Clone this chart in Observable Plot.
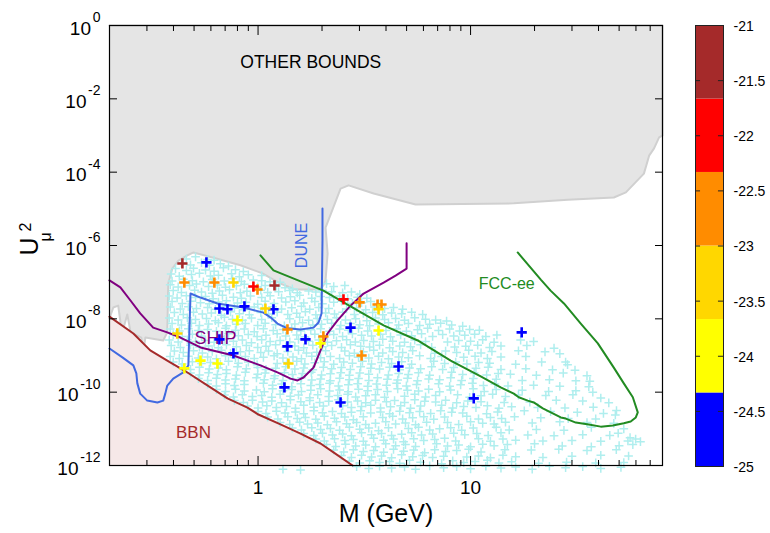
<!DOCTYPE html>
<html><head><meta charset="utf-8">
<script src="https://cdn.jsdelivr.net/npm/d3@7"></script>
<script src="https://cdn.jsdelivr.net/npm/@observablehq/plot@0.6"></script>
<style>
body{margin:0;background:#fff;}
#wrap{position:relative;width:770px;height:533px;background:#fff;}
#wrap svg{position:absolute;top:0;}
</style></head><body><div id="wrap"></div>
<script>
// [M (GeV), log10 U^2]
const otherBounds = [[0.2,-7.99],[0.2084,-7.69],[0.2198,-7.64],[0.229,-8.40],[0.2425,-7.88],[0.256,-8.62],[0.2645,-8.43],[0.2823,-8.51],[0.2886,-8.89],[0.295,-8.51],[0.358,-8.59],[0.374,-8.37],[0.378,-7.04],[0.395,-6.63],[0.4217,-6.41],[0.4648,-6.27],[0.497,-6.19],[0.63,-6.35],[0.826,-6.54],[1.049,-6.76],[1.275,-7.04],[1.50,-7.20],[1.927,-7.20],[2.03,-7.09],[2.078,-6.95],[2.125,-6.22],[2.078,-5.51],[2.445,-4.45],[2.667,-4.36],[3.50,-4.58],[5.51,-4.88],[15.97,-4.85],[28.7,-4.75],[47.2,-4.69],[53.8,-4.55],[65.4,-4.04],[69.2,-3.55],[73.0,-3.35],[77.1,-3.05],[80,-3.0],[80,0],[0.2,0]];
const bbnLine = [[0.2,-7.94],[0.259,-8.40],[0.311,-8.86],[0.386,-9.19],[0.450,-9.41],[0.597,-9.87],[0.718,-10.17],[0.892,-10.42],[1.004,-10.61],[1.275,-10.88],[1.585,-11.13],[1.968,-11.40],[2.265,-11.64],[2.785,-12.0]];
const shipLine = [[0.2,-6.95],[0.225,-7.14],[0.251,-7.50],[0.279,-7.85],[0.321,-8.24],[0.374,-8.37],[0.431,-8.51],[0.536,-8.78],[0.766,-9.00],[1.026,-9.27],[1.234,-9.46],[1.422,-9.63],[1.534,-9.68],[1.636,-9.60],[1.824,-9.33],[1.968,-8.86],[2.122,-8.40],[2.366,-8.04],[2.724,-7.64],[3.138,-7.31],[3.898,-7.01],[4.438,-6.82],[5.0,-6.63],[5.0,-5.94]];
const duneLine = [[0.2,-8.81],[0.230,-9.05],[0.259,-9.27],[0.2675,-9.49],[0.2704,-9.76],[0.279,-10.04],[0.301,-10.23],[0.336,-10.28],[0.358,-10.23],[0.366,-10.04],[0.374,-9.82],[0.399,-9.63],[0.445,-9.46],[0.470,-9.27],[0.481,-7.31],[0.536,-7.42],[0.644,-7.58],[0.853,-7.69],[1.060,-7.83],[1.144,-7.96],[1.234,-8.13],[1.375,-8.26],[1.585,-8.29],[1.824,-8.24],[1.926,-8.10],[1.990,-7.85],[2.01,-5.86],[2.01,-4.99]];
const fccLine = [[1.026,-6.27],[1.182,-6.68],[1.585,-6.98],[2.03,-7.23],[2.724,-7.66],[3.898,-8.18],[5.64,-8.59],[8.06,-9.14],[11.16,-9.57],[13.86,-9.87],[15.97,-10.04],[16.85,-10.14],[18.58,-10.23],[19.83,-10.28],[21.87,-10.44],[24.37,-10.58],[26.57,-10.69],[28.05,-10.72],[31.27,-10.83],[35.98,-10.88],[41.0,-10.94],[46.7,-10.91],[52.6,-10.85],[56.7,-10.80],[59.9,-10.69],[61.2,-10.55],[58.0,-10.14],[52.6,-9.76],[47.2,-9.33],[39.7,-8.67],[33.0,-8.13],[27.5,-7.58],[23.8,-7.23],[21.4,-6.93],[16.66,-6.19]];
// benchmark points [M, log10 U^2, colour value]
const markedPoints = [[0.4406,-6.49,-21.3],[1.195,-7.09,-21.3],
[0.5715,-6.46,-24.7],[0.658,-7.72,-24.7],[0.718,-7.74,-24.7],[0.863,-7.66,-24.7],[1.182,-7.74,-24.7],[0.658,-8.56,-24.7],[1.672,-8.56,-24.7],[1.375,-8.75,-24.7],[0.766,-8.94,-24.7],[1.331,-9.87,-24.7],[2.724,-8.24,-24.7],[4.58,-9.30,-24.7],[2.445,-10.28,-24.7],[10.35,-10.17,-24.7],[17.4,-8.37,-24.7],
[0.450,-7.01,-22.7],[0.623,-7.01,-22.7],[0.994,-7.20,-22.7],[1.375,-8.29,-22.7],[2.03,-8.48,-22.7],[3.005,-7.55,-22.7],[3.65,-7.61,-22.7],[3.81,-7.61,-22.7],[3.07,-9.00,-22.7],
[0.951,-7.12,-22.0],[2.524,-7.47,-22.0],
[0.766,-7.01,-23.3],[1.083,-7.72,-23.3],[0.417,-8.40,-23.3],[1.39,-9.22,-23.3],[3.69,-7.74,-23.3],
[0.800,-8.04,-24.0],[1.968,-8.67,-24.0],[0.536,-9.14,-24.0],[0.644,-9.22,-24.0],[0.450,-9.35,-24.0],[3.69,-8.32,-24.0]];
// scan points [M, log10 U^2]
const scanPoints = [
[0.46,-6.37],[0.508,-6.31],[0.579,-6.38],[0.621,-6.4],
[0.436,-6.48],[0.481,-6.53],[0.542,-6.47],[0.59,-6.54],[0.665,-6.5],[0.726,-6.56],
[0.409,-6.63],[0.46,-6.68],[0.497,-6.62],[0.566,-6.67],[0.621,-6.7],[0.687,-6.61],[0.783,-6.66],[0.853,-6.71],
[0.39,-6.78],[0.426,-6.84],[0.486,-6.79],[0.53,-6.76],[0.597,-6.83],[0.651,-6.81],[0.75,-6.77],[0.817,-6.85],[0.9,-6.8],[1.04,-6.82],
[0.394,-6.97],[0.445,-6.92],[0.491,-6.96],[0.553,-6.99],[0.609,-6.93],[0.694,-6.97],[0.758,-6.91],[0.835,-6.98],[0.95,-6.94],[1.04,-6.96],[1.14,-6.99],[1.27,-7.0],
[0.386,-7.07],[0.421,-7.13],[0.476,-7.09],[0.513,-7.05],[0.585,-7.12],[0.644,-7.08],[0.703,-7.14],[0.791,-7.1],[0.862,-7.06],[0.996,-7.13],[1.08,-7.09],[1.22,-7.11],[1.34,-7.15],[1.45,-7.18],[2.1,-7.04],[2.27,-7.12],[2.56,-7.09],
[0.399,-7.23],[0.436,-7.28],[0.503,-7.22],[0.542,-7.27],[0.609,-7.3],[0.658,-7.24],[0.734,-7.21],[0.826,-7.29],[0.886,-7.25],[1.03,-7.22],[1.11,-7.28],[1.25,-7.26],[1.41,-7.23],[1.53,-7.29],[1.73,-7.24],[1.87,-7.27],[2.01,-7.22],[2.22,-7.26],[2.5,-7.29],[2.75,-7.27],[3.01,-7.33],
[0.382,-7.38],[0.416,-7.43],[0.46,-7.37],[0.508,-7.42],[0.566,-7.39],[0.615,-7.45],[0.68,-7.36],[0.766,-7.41],[0.835,-7.44],[0.921,-7.38],[1.04,-7.42],[1.14,-7.37],[1.29,-7.43],[1.42,-7.4],[1.57,-7.36],[1.79,-7.44],[1.97,-7.39],[2.17,-7.42],[2.42,-7.38],[2.64,-7.45],[2.94,-7.41],[3.25,-7.44],
[0.394,-7.53],[0.44,-7.58],[0.481,-7.52],[0.536,-7.56],[0.59,-7.59],[0.651,-7.54],[0.71,-7.51],[0.8,-7.57],[0.877,-7.55],[0.996,-7.6],[1.08,-7.52],[1.19,-7.58],[1.35,-7.54],[1.49,-7.51],[1.64,-7.57],[1.85,-7.53],[2.01,-7.59],[2.27,-7.55],[2.47,-7.52],[2.78,-7.58],[3.07,-7.56],[3.39,-7.53],[3.69,-7.59],
[0.386,-7.68],[0.431,-7.73],[0.47,-7.67],[0.513,-7.72],[0.579,-7.69],[0.63,-7.74],[0.703,-7.66],[0.774,-7.71],[0.853,-7.75],[0.96,-7.68],[1.05,-7.72],[1.17,-7.67],[1.29,-7.73],[1.44,-7.7],[1.6,-7.66],[1.75,-7.74],[1.93,-7.69],[2.15,-7.72],[2.61,-7.73],[2.91,-7.7],[3.21,-7.75],[3.53,-7.68],[3.94,-7.72],[4.34,-7.69],[4.79,-7.74],
[0.404,-7.83],[0.445,-7.88],[0.497,-7.82],[0.547,-7.87],[0.603,-7.84],[0.672,-7.9],[0.742,-7.81],[0.817,-7.86],[0.91,-7.89],[1.03,-7.83],[1.12,-7.87],[1.23,-7.82],[1.38,-7.88],[1.52,-7.85],[1.67,-7.81],[1.87,-7.89],[2.08,-7.84],[2.29,-7.87],[2.5,-7.82],[2.84,-7.88],[3.13,-7.85],[3.46,-7.83],[3.86,-7.89],[4.25,-7.84],[4.74,-7.86],[5.28,-7.82],[5.95,-7.88],
[0.382,-7.98],[0.421,-8.03],[0.465,-7.97],[0.508,-8.02],[0.572,-7.99],[0.63,-8.05],[0.695,-7.96],[0.758,-8.01],[0.845,-8.04],[0.931,-7.98],[1.04,-8.02],[1.16,-7.97],[1.41,-8.0],[1.57,-7.96],[1.73,-8.04],[1.9,-7.99],[2.12,-8.02],[2.34,-7.97],[2.58,-8.03],[2.88,-8.0],[3.25,-8.05],[3.57,-7.98],[3.94,-8.02],[4.44,-7.99],[4.89,-8.04],[5.46,-7.97],[6.14,-8.01],[6.85,-8.03],[7.71,-8.06],
[0.394,-8.13],[0.436,-8.17],[0.486,-8.12],[0.53,-8.18],[0.585,-8.14],[0.651,-8.11],[0.71,-8.19],[0.791,-8.15],[0.872,-8.13],[0.996,-8.18],[1.08,-8.12],[1.21,-8.16],[1.33,-8.19],[1.49,-8.14],[1.62,-8.11],[1.81,-8.17],[1.99,-8.15],[2.22,-8.12],[2.45,-8.18],[2.72,-8.13],[3.01,-8.16],[3.35,-8.19],[3.69,-8.14],[4.11,-8.11],[4.59,-8.17],[5.1,-8.13],[5.76,-8.18],[6.42,-8.15],[7.23,-8.12],[8.15,-8.17],[9.18,-8.2],
[0.386,-8.28],[0.426,-8.33],[0.47,-8.27],[0.524,-8.32],[0.579,-8.29],[0.637,-8.34],[0.703,-8.26],[0.783,-8.31],[0.862,-8.28],[0.96,-8.35],[1.06,-8.27],[1.18,-8.32],[1.31,-8.29],[1.44,-8.26],[1.59,-8.33],[1.77,-8.3],[1.97,-8.27],[2.17,-8.34],[2.42,-8.28],[2.66,-8.31],[2.97,-8.26],[3.28,-8.33],[4.0,-8.32],[4.49,-8.27],[4.99,-8.34],[5.63,-8.3],[6.28,-8.26],[7.07,-8.32],[7.97,-8.28],[8.88,-8.33],[9.9,-8.29],[11.0,-8.31],
[0.399,-8.43],[0.44,-8.48],[0.491,-8.42],[0.542,-8.47],[0.665,-8.49],[0.726,-8.41],[0.808,-8.46],[0.9,-8.43],[0.99,-8.48],[1.09,-8.45],[1.23,-8.41],[1.35,-8.47],[1.52,-8.44],[1.66,-8.49],[1.85,-8.42],[2.03,-8.46],[2.27,-8.43],[2.5,-8.48],[2.78,-8.41],[3.07,-8.45],[3.42,-8.47],[3.77,-8.42],[4.2,-8.49],[4.69,-8.44],[5.28,-8.46],[5.88,-8.41],[6.63,-8.48],[7.39,-8.43],[8.33,-8.47],[9.39,-8.45],[10.45,-8.42],[11.8,-8.48],[13.3,-8.44],
[0.382,-8.58],[0.421,-8.63],[0.465,-8.57],[0.508,-8.62],[0.566,-8.59],[0.621,-8.64],[0.695,-8.56],[0.766,-8.61],[0.844,-8.58],[0.931,-8.65],[1.04,-8.57],[1.14,-8.62],[1.27,-8.59],[1.41,-8.63],[1.55,-8.56],[1.73,-8.61],[1.93,-8.58],[2.12,-8.64],[2.34,-8.6],[2.61,-8.57],[2.87,-8.63],[3.14,-8.59],[3.49,-8.62],[3.86,-8.56],[4.3,-8.61],[4.89,-8.64],[5.46,-8.58],[6.14,-8.62],[7.79,-8.63],[8.79,-8.59],[10.0,-8.61],[11.4,-8.57],[12.9,-8.64],[17.2,-8.58],[19.8,-8.62],
[0.39,-8.73],[0.431,-8.78],[0.481,-8.72],[0.53,-8.77],[0.585,-8.74],[0.651,-8.79],[0.71,-8.71],[0.791,-8.76],[0.881,-8.73],[0.996,-8.78],[1.09,-8.75],[1.21,-8.71],[1.35,-8.77],[1.49,-8.74],[1.64,-8.79],[1.81,-8.72],[2.01,-8.76],[2.22,-8.73],[2.47,-8.78],[2.72,-8.71],[3.04,-8.75],[3.35,-8.77],[3.73,-8.72],[4.16,-8.79],[4.64,-8.74],[5.22,-8.76],[5.82,-8.71],[6.56,-8.78],[8.42,-8.77],[9.49,-8.75],[10.8,-8.72],[12.3,-8.78],[13.9,-8.74],[18.4,-8.73],[24.7,-8.8],
[0.404,-8.88],[0.445,-8.92],[0.497,-8.87],[0.547,-8.93],[0.609,-8.89],[0.672,-8.86],[0.742,-8.94],[0.826,-8.9],[0.91,-8.87],[1.03,-8.92],[1.12,-8.88],[1.23,-8.95],[1.38,-8.89],[1.55,-8.86],[1.69,-8.93],[1.89,-8.91],[2.08,-8.87],[2.56,-8.88],[2.84,-8.94],[3.13,-8.9],[3.5,-8.86],[3.86,-8.93],[4.3,-8.89],[4.79,-8.92],[5.34,-8.87],[6.78,-8.94],[7.63,-8.88],[8.6,-8.92],[9.8,-8.86],[11.2,-8.93],[12.6,-8.89],[16.8,-8.87],[22.4,-8.9],[26.3,-8.95],
[0.386,-9.03],[0.426,-9.08],[0.47,-9.02],[0.524,-9.07],[0.579,-9.04],[0.637,-9.09],[0.703,-9.01],[0.783,-9.06],[0.872,-9.03],[0.96,-9.08],[1.06,-9.05],[1.19,-9.01],[1.31,-9.07],[1.46,-9.04],[1.6,-9.09],[1.79,-9.02],[1.97,-9.06],[2.19,-9.03],[2.42,-9.08],[2.69,-9.01],[2.97,-9.05],[3.32,-9.07],[3.69,-9.02],[4.11,-9.09],[4.59,-9.04],[5.1,-9.06],[5.76,-9.01],[6.49,-9.08],[7.31,-9.03],[9.28,-9.05],[10.5,-9.02],[12.0,-9.08],[13.9,-9.04],[18.2,-9.03],[28.0,-9.18],
[0.399,-9.18],[0.44,-9.23],[0.491,-9.17],[0.542,-9.22],[0.597,-9.19],[0.665,-9.24],[0.726,-9.16],[0.808,-9.21],[0.9,-9.18],[0.99,-9.25],[1.23,-9.22],[1.37,-9.19],[1.52,-9.16],[1.66,-9.23],[1.85,-9.2],[2.05,-9.17],[2.27,-9.24],[2.53,-9.18],[2.78,-9.21],[3.1,-9.16],[3.42,-9.23],[3.81,-9.19],[4.25,-9.22],[4.74,-9.17],[5.28,-9.24],[6.71,-9.16],[7.55,-9.22],[8.51,-9.18],[9.61,-9.23],[10.9,-9.19],[12.3,-9.21],[16.3,-9.24],[21.6,-9.18],[28.6,-9.25],
[0.436,-9.33],[0.481,-9.38],[0.53,-9.32],[0.59,-9.37],[0.651,-9.34],[0.71,-9.39],[0.8,-9.31],[0.881,-9.36],[0.996,-9.33],[1.09,-9.38],[1.21,-9.35],[1.35,-9.31],[1.49,-9.37],[1.64,-9.34],[1.81,-9.39],[2.03,-9.32],[2.22,-9.36],[2.47,-9.33],[2.72,-9.38],[3.04,-9.31],[3.39,-9.35],[3.73,-9.37],[4.16,-9.32],[4.64,-9.39],[5.16,-9.34],[5.82,-9.36],[6.56,-9.31],[7.39,-9.38],[8.33,-9.33],[10.6,-9.35],[12.1,-9.32],[13.9,-9.38],[18.2,-9.36],[24.3,-9.39],[31.0,-9.4],
[0.481,-9.48],[0.53,-9.53],[0.585,-9.47],[0.644,-9.52],[0.71,-9.49],[0.791,-9.54],[0.872,-9.46],[0.996,-9.51],[1.08,-9.48],[1.2,-9.55],[1.33,-9.47],[1.45,-9.52],[1.62,-9.49],[1.78,-9.46],[1.99,-9.53],[2.19,-9.5],[2.45,-9.47],[2.69,-9.54],[3.01,-9.48],[3.32,-9.51],[4.11,-9.53],[4.59,-9.49],[5.1,-9.52],[5.69,-9.47],[6.42,-9.54],[8.15,-9.46],[9.18,-9.52],[10.4,-9.48],[11.9,-9.53],[13.5,-9.49],[15.4,-9.51],[20.4,-9.54],[27.3,-9.48],[35.3,-9.55],
[0.524,-9.63],[0.579,-9.68],[0.637,-9.62],[0.703,-9.67],[0.783,-9.64],[0.862,-9.69],[0.983,-9.61],[1.07,-9.66],[1.19,-9.63],[1.31,-9.68],[1.46,-9.65],[1.6,-9.61],[1.79,-9.67],[1.97,-9.64],[2.19,-9.69],[2.42,-9.62],[2.69,-9.66],[2.97,-9.63],[3.32,-9.68],[3.65,-9.61],[4.06,-9.65],[4.54,-9.67],[5.05,-9.62],[5.63,-9.69],[6.35,-9.64],[7.15,-9.66],[8.06,-9.61],[9.08,-9.68],[10.3,-9.63],[13.2,-9.65],[17.5,-9.68],[23.5,-9.66],[31.3,-9.69],[36.4,-9.7],
[0.579,-9.78],[0.637,-9.83],[0.703,-9.77],[0.774,-9.82],[0.862,-9.79],[1.06,-9.76],[1.17,-9.81],[1.29,-9.78],[1.44,-9.85],[1.59,-9.77],[1.77,-9.82],[1.95,-9.79],[2.17,-9.76],[2.39,-9.83],[2.66,-9.8],[2.94,-9.77],[3.28,-9.84],[3.61,-9.78],[4.02,-9.81],[4.49,-9.76],[4.99,-9.83],[5.57,-9.79],[7.07,-9.77],[7.97,-9.84],[8.98,-9.8],[10.2,-9.76],[11.5,-9.82],[13.0,-9.78],[15.0,-9.83],[19.8,-9.81],[26.3,-9.84],[36.0,-9.85],
[0.637,-9.93],[0.703,-9.98],[0.783,-9.92],[0.862,-9.97],[0.983,-9.94],[1.07,-9.99],[1.17,-9.91],[1.31,-9.96],[1.44,-9.93],[1.6,-9.98],[1.77,-9.95],[1.97,-9.91],[2.17,-9.97],[2.42,-9.94],[2.66,-9.99],[2.97,-9.92],[3.28,-9.96],[3.65,-9.93],[4.06,-9.98],[4.54,-9.91],[5.05,-9.95],[5.69,-9.97],[6.35,-9.92],[7.15,-9.99],[8.06,-9.94],[10.3,-9.91],[11.6,-9.98],[13.2,-9.93],[17.5,-9.95],[23.3,-9.98],[31.3,-9.96],[37.6,-10.0],
[0.695,-10.08],[0.766,-10.13],[0.844,-10.07],[0.941,-10.12],[1.04,-10.09],[1.16,-10.14],[1.27,-10.06],[1.42,-10.11],[1.55,-10.08],[1.75,-10.15],[1.91,-10.07],[2.15,-10.12],[2.37,-10.09],[2.64,-10.06],[2.88,-10.13],[3.21,-10.1],[3.57,-10.07],[3.94,-10.14],[4.89,-10.11],[5.46,-10.06],[6.14,-10.13],[6.85,-10.09],[8.69,-10.07],[9.9,-10.14],[11.2,-10.1],[12.7,-10.06],[14.6,-10.12],[16.8,-10.08],[22.6,-10.09],[30.3,-10.07],[41.0,-10.16],
[0.774,-10.23],[0.853,-10.28],[0.941,-10.22],[1.05,-10.27],[1.16,-10.24],[1.29,-10.29],[1.42,-10.21],[1.59,-10.26],[1.75,-10.23],[1.95,-10.28],[2.15,-10.25],[2.39,-10.21],[2.64,-10.27],[2.94,-10.24],[3.21,-10.29],[3.57,-10.22],[4.02,-10.26],[4.39,-10.23],[4.89,-10.28],[5.46,-10.21],[6.08,-10.25],[6.85,-10.27],[7.63,-10.22],[8.6,-10.29],[9.7,-10.24],[11.2,-10.26],[14.4,-10.28],[19.0,-10.27],[25.3,-10.22],[33.7,-10.24],[44.7,-10.29],
[0.892,-10.38],[1.0,-10.43],[1.1,-10.37],[1.22,-10.42],[1.36,-10.39],[1.5,-10.44],[1.64,-10.36],[1.83,-10.41],[2.03,-10.38],[2.5,-10.37],[2.75,-10.42],[3.07,-10.39],[3.39,-10.36],[3.77,-10.43],[4.2,-10.4],[4.69,-10.37],[5.22,-10.44],[5.82,-10.38],[7.31,-10.36],[8.24,-10.43],[9.28,-10.39],[10.6,-10.42],[12.0,-10.37],[13.6,-10.44],[15.6,-10.4],[20.7,-10.42],[27.8,-10.43],[37.8,-10.41],[48.6,-10.5],
[1.0,-10.53],[1.09,-10.58],[1.22,-10.52],[1.34,-10.57],[1.5,-10.54],[1.64,-10.59],[1.83,-10.51],[2.01,-10.56],[2.24,-10.53],[2.47,-10.58],[2.75,-10.55],[3.04,-10.51],[3.39,-10.57],[3.77,-10.54],[4.16,-10.59],[4.64,-10.52],[5.16,-10.56],[5.76,-10.53],[6.49,-10.58],[7.23,-10.51],[8.15,-10.55],[9.18,-10.57],[11.9,-10.59],[13.4,-10.54],[17.9,-10.51],[23.8,-10.53],[31.8,-10.55],[42.2,-10.58],[48.0,-10.62],
[1.11,-10.68],[1.24,-10.73],[1.38,-10.67],[1.53,-10.72],[1.67,-10.69],[1.87,-10.74],[2.05,-10.66],[2.29,-10.71],[2.56,-10.68],[2.81,-10.75],[3.13,-10.67],[3.86,-10.69],[4.3,-10.66],[4.79,-10.73],[5.34,-10.7],[6.02,-10.67],[6.71,-10.74],[7.55,-10.68],[9.6,-10.66],[10.9,-10.73],[12.4,-10.69],[14.0,-10.72],[16.1,-10.67],[21.4,-10.7],[28.8,-10.72],[38.8,-10.73],
[1.27,-10.83],[1.41,-10.88],[1.57,-10.82],[1.71,-10.87],[1.91,-10.84],[2.12,-10.89],[2.34,-10.81],[2.61,-10.86],[2.91,-10.83],[3.21,-10.88],[3.57,-10.85],[3.99,-10.81],[4.44,-10.87],[4.94,-10.84],[5.51,-10.89],[6.21,-10.82],[7.79,-10.83],[8.79,-10.88],[10.0,-10.81],[11.4,-10.85],[12.9,-10.87],[14.6,-10.82],[19.5,-10.84],[26.3,-10.81],[35.3,-10.83],[47.2,-10.85],[52.6,-11.0],
[1.45,-10.98],[1.6,-11.03],[1.79,-10.97],[1.97,-11.02],[2.19,-10.99],[2.42,-11.04],[2.69,-10.96],[3.01,-11.01],[3.32,-10.98],[3.69,-11.05],[4.11,-10.97],[5.1,-10.99],[5.69,-10.96],[6.42,-11.03],[7.15,-11.0],[8.06,-10.97],[9.08,-11.04],[10.3,-10.98],[13.2,-10.96],[15.2,-11.03],[20.4,-11.02],[27.5,-11.04],[37.0,-10.96],[49.5,-11.12],[56.3,-11.24],
[1.64,-11.13],[1.83,-11.18],[2.01,-11.12],[2.24,-11.17],[2.5,-11.14],[2.75,-11.19],[3.07,-11.11],[3.42,-11.16],[3.81,-11.13],[4.25,-11.18],[4.74,-11.15],[5.28,-11.11],[5.88,-11.17],[6.63,-11.14],[8.33,-11.12],[9.39,-11.16],[10.7,-11.13],[12.1,-11.18],[13.9,-11.11],[18.6,-11.17],[24.7,-11.19],[33.7,-11.16],[45.2,-11.18],[59.8,-11.28],
[1.87,-11.28],[2.05,-11.33],[2.29,-11.27],[2.56,-11.32],[2.81,-11.29],[3.13,-11.34],[3.5,-11.26],[3.9,-11.31],[4.34,-11.28],[4.84,-11.35],[5.4,-11.27],[6.02,-11.32],[6.78,-11.29],[7.55,-11.26],[8.51,-11.33],[10.9,-11.27],[12.4,-11.34],[14.2,-11.28],[16.3,-11.31],[21.9,-11.33],[30.0,-11.32],[41.0,-11.34],[55.0,-11.33],[63.0,-11.35],
[2.1,-11.43],[2.32,-11.48],[2.58,-11.42],[2.88,-11.47],[3.21,-11.44],[3.57,-11.49],[3.99,-11.41],[4.44,-11.46],[4.94,-11.43],[5.51,-11.48],[6.92,-11.41],[7.79,-11.47],[8.79,-11.44],[10.0,-11.49],[11.4,-11.42],[12.9,-11.46],[14.9,-11.43],[20.0,-11.41],[27.0,-11.47],[37.0,-11.49],[50.0,-11.46],[58.0,-11.43],
[2.27,-11.58],[2.53,-11.63],[2.81,-11.57],[3.13,-11.62],[3.5,-11.59],[3.9,-11.64],[4.34,-11.56],[4.84,-11.61],[5.4,-11.58],[6.08,-11.65],[6.78,-11.57],[7.63,-11.62],[8.6,-11.59],[9.8,-11.56],[11.2,-11.63],[14.5,-11.57],[19.3,-11.58],[26.0,-11.56],[35.3,-11.59],[48.5,-11.57],
[2.47,-11.73],[2.75,-11.78],[3.07,-11.72],[3.42,-11.77],[3.81,-11.74],[4.25,-11.79],[4.74,-11.71],[5.34,-11.76],[5.95,-11.73],[6.63,-11.78],[7.47,-11.75],[9.6,-11.77],[10.9,-11.74],[12.4,-11.79],[14.2,-11.72],[16.3,-11.76],[21.9,-11.78],[30.0,-11.75],[41.0,-11.72],[55.4,-11.74],
[2.69,-11.88],[3.01,-11.93],[3.35,-11.87],[3.73,-11.92],[4.16,-11.89],[4.64,-11.94],[5.16,-11.86],[5.82,-11.91],[7.31,-11.95],[8.24,-11.87],[9.28,-11.92],[10.5,-11.89],[12.0,-11.86],[13.6,-11.93],[15.6,-11.9],[20.9,-11.94],[28.3,-11.91],[38.8,-11.93],[52.6,-11.92],
[2.91,-12.03],[3.32,-12.08],[3.73,-12.02],[4.25,-12.07],[4.89,-12.04],[5.51,-12.1],[6.42,-12.01],[7.47,-12.06],[8.6,-12.03],[10.0,-12.09],[11.8,-12.02],[13.9,-12.07],[16.3,-12.04],[19.5,-12.1],[23.5,-12.02],[28.0,-12.06],[33.7,-12.03],[41.0,-12.08],[51.0,-12.05],[1.31,-12.1],[1.585,-12.12]];

const regionLabels = [
  {text:"OTHER BOUNDS", m:1.77, u:-1.01, color:"#000000", size:17.5, rotate:0},
  {text:"DUNE", m:1.606, u:-6.0, color:"#4169e1", size:16, rotate:-90},
  {text:"SHIP", m:0.63, u:-8.54, color:"#800080", size:18, rotate:0},
  {text:"BBN", m:0.497, u:-11.1, color:"#a52a2a", size:17, rotate:0},
  {text:"FCC-ee", m:14.8, u:-7.04, color:"#228b22", size:16, rotate:0}
];
const xMajor = [1, 10];
const xMinor = [0.3,0.4,0.5,0.6,0.7,0.8,0.9,2,3,4,5,6,7,8,9,20,30,40,50,60,70,80];
const yExp = [0,-2,-4,-6,-8,-10,-12];
const cbThresholds = [-24.333,-23.667,-23,-22.333,-21.667];
const cbPalette = ["#0000ff","#ffff00","#ffd700","#ff8c00","#ff0000","#a52a2a"];
const cbLevels = [-25,-24.333,-23.667,-23,-22.333,-21.667,-21];
const cbTicks = [-25,-24.5,-24,-23.5,-23,-22.5,-22,-21.5,-21];

const font = "'Liberation Sans', Arial, Helvetica, sans-serif";
const colorScale = {type:"threshold", domain: cbThresholds, range: cbPalette};
const X = d => d[0], Y = d => 10 ** d[1];
const E = d => 10 ** d;

const lines = [
  [duneLine, "#4169e1"], [shipLine, "#800080"], [fccLine, "#228b22"], [bbnLine, "#a52a2a"]
].map(([data, c]) => Plot.line(data, {x: X, y: Y, stroke: c, strokeWidth: 2}));

const main = Plot.plot({
  width: 770, height: 533,
  marginLeft: 109, marginRight: 108, marginTop: 25, marginBottom: 68,
  style: {fontFamily: font, background: "transparent", color: "black", overflow: "visible"},
  x: {type: "log", domain: [0.2, 80]},
  y: {type: "log", domain: [1e-12, 1]},
  color: colorScale,
  marks: [
    Plot.line(otherBounds, {x: X, y: Y, fill: "#e5e5e5", stroke: "#d0d0d0", strokeWidth: 2}),
    Plot.areaY(bbnLine, {x: X, y1: 1e-12, y2: Y, fill: "#f6e8e8"}),
    Plot.dot(scanPoints, {x: X, y: Y, symbol: "plus", r: 2.9, stroke: "#afeeee", strokeWidth: 1.5}),
    ...lines,
    ...regionLabels.map(l => Plot.text([l], {x: d => d.m, y: d => 10 ** d.u, text: d => d.text, fill: l.color, fontSize: l.size, rotate: l.rotate})),
    Plot.dot(markedPoints, {x: X, y: Y, stroke: d => d[2], symbol: "plus", r: 3.4, strokeWidth: 2.6}),
    Plot.frame({stroke: "black", strokeWidth: 1.2}),
    Plot.axisX(xMinor, {anchor: "bottom", tickSize: -5, tickFormat: () => "", label: null}),
    Plot.axisX(xMinor, {anchor: "top", tickSize: -5, tickFormat: () => "", label: null}),
    Plot.axisX(xMajor, {anchor: "bottom", tickSize: -9, tickFormat: () => "", label: null}),
    Plot.axisX(xMajor, {anchor: "top", tickSize: -9, tickFormat: () => "", label: null}),
    Plot.axisY(yExp.map(E), {anchor: "left", tickSize: -8, tickFormat: () => "", label: null}),
    Plot.axisY(yExp.map(E), {anchor: "right", tickSize: -8, tickFormat: () => "", label: null}),
    Plot.text(xMajor, {x: d => d, frameAnchor: "bottom", dy: 28, text: d => String(d), fontSize: 19}),
    Plot.text(yExp, {y: E, frameAnchor: "left", dx: -9, dy: -8, textAnchor: "end", text: d => String(d), fontSize: 14}),
    Plot.text(yExp.filter(d => d === 0), {y: E, frameAnchor: "left", dx: -18.5, dy: 3, textAnchor: "end", text: () => "10", fontSize: 19}),
    Plot.text(yExp.filter(d => d < 0 && d > -10), {y: E, frameAnchor: "left", dx: -23, dy: 3, textAnchor: "end", text: () => "10", fontSize: 19}),
    Plot.text(yExp.filter(d => d <= -10), {y: E, frameAnchor: "left", dx: -31, dy: 3, textAnchor: "end", text: () => "10", fontSize: 19}),
    Plot.text(["M (GeV)"], {frameAnchor: "bottom", dy: 56, text: d => d, fontSize: 25}),
    Plot.text(["U"], {frameAnchor: "left", dx: -80, dy: 10, rotate: -90, text: d => d, fontSize: 25}),
    Plot.text(["μ"], {frameAnchor: "left", dx: -64, dy: -4, rotate: -90, text: d => d, fontSize: 16}),
    Plot.text(["2"], {frameAnchor: "left", dx: -84, dy: -14, rotate: -90, text: d => d, fontSize: 16})
  ]
});
main.style.left = "0px";

const bands = cbLevels.slice(0, -1).map((lo, i) => ({lo, hi: cbLevels[i + 1], mid: (lo + cbLevels[i + 1]) / 2}));
const inner = cbTicks.slice(1, -1);
const bar = Plot.plot({
  width: 90, height: 533,
  marginLeft: 15, marginRight: 47, marginTop: 25, marginBottom: 67,
  style: {fontFamily: font, background: "transparent", color: "black", overflow: "visible"},
  x: {domain: [0, 1], axis: null},
  y: {domain: [-25, -21], axis: null},
  color: colorScale,
  marks: [
    Plot.rect(bands, {x1: 0, x2: 1, y1: d => d.lo, y2: d => d.hi, fill: d => d.mid}),
    Plot.ruleY(inner, {y: d => d, x1: 0, x2: 0.18, stroke: "#222", strokeWidth: 1}),
    Plot.ruleY(inner, {y: d => d, x1: 0.82, x2: 1, stroke: "#222", strokeWidth: 1}),
    Plot.frame({stroke: "#222", strokeWidth: 1}),
    Plot.text(cbTicks, {y: d => d, frameAnchor: "right", dx: 10, dy: 1, textAnchor: "start", text: d => String(d), fontSize: 14})
  ]
});
bar.style.left = "680px";

const wrap = document.getElementById("wrap");
wrap.appendChild(main);
wrap.appendChild(bar);
</script></body></html>
